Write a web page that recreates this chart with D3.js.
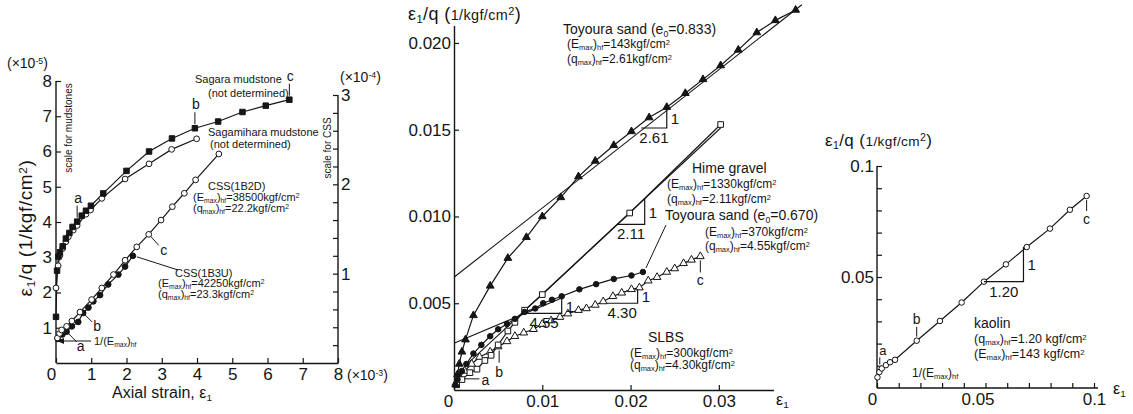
<!DOCTYPE html>
<html>
<head>
<meta charset="utf-8">
<script src="https://cdn.jsdelivr.net/npm/d3@7"></script>
<style>
  body { margin: 0; background: #fff; }
  svg { display: block; font-family: "Liberation Sans", Arial, Helvetica, sans-serif; }
</style>
</head>
<body>
<div id="chart"></div>
<script>
// ---------- panel 1: mudstones (strain x1e-3, e/q x1e-5) and CSS (e/q x1e-4)
const sagara = [[0.00,1.31],[0.03,2.62],[0.07,3.02],[0.11,3.14],[0.19,3.31],[0.28,3.53],[0.38,3.69],[0.47,3.86],[0.60,4.01],[0.73,4.18],[0.85,4.32],[0.99,4.46],[1.34,4.81],[2.00,5.45],[2.64,6.00],[3.29,6.37],[3.94,6.66],[4.60,6.85],[5.29,7.12],[5.95,7.30],[6.62,7.47]];
const sagamihara = [[0.00,2.13],[0.06,2.76],[0.11,3.05],[0.19,3.25],[0.28,3.44],[0.35,3.58],[0.49,3.77],[0.60,3.90],[0.85,4.22],[0.98,4.34],[1.30,4.67],[1.96,5.22],[2.64,5.65],[3.28,6.06],[3.99,6.36]];
const css1b2d = [[0.04,0.28],[0.10,0.33],[0.16,0.37],[0.30,0.41],[0.45,0.47],[0.68,0.57],[1.01,0.71],[1.30,0.84],[1.63,0.99],[1.96,1.15],[2.29,1.30],[2.63,1.44],[2.98,1.60],[3.30,1.75],[3.64,1.90],[3.96,2.05],[4.62,2.34]];
const css1b3u = [[0.05,0.27],[0.18,0.32],[0.30,0.35],[0.45,0.41],[0.63,0.46],[0.77,0.56],[0.92,0.62],[1.06,0.69],[1.25,0.76],[1.48,0.88],[1.77,0.99],[1.96,1.08],[2.18,1.20]];
const p1StrainTicks = [0,1,2,3,4,5,6,7,8];
const p1MudTicks = [1,2,3,4,5,6,7,8];
const p1CssTicks = d3.range(0.2, 3.01, 0.2);

// ---------- panel 2: sands and gravel
const toyoura833 = [[0.0002,0.0003],[0.0004,0.0009],[0.0006,0.0015],[0.0009,0.0022],[0.0013,0.0029],[0.0022,0.0043],[0.0041,0.0060],[0.0061,0.0076],[0.0082,0.0088],[0.0100,0.0100],[0.0121,0.0111],[0.0141,0.0123],[0.0160,0.0132],[0.0181,0.0141],[0.0201,0.0149],[0.0221,0.0157],[0.0241,0.0163],[0.0262,0.0171],[0.0282,0.0179],[0.0302,0.0187],[0.0322,0.0196],[0.0343,0.0206],[0.0364,0.0213],[0.0387,0.0219]];
const hime = [[0.0003,0.0003],[0.0009,0.0006],[0.0018,0.0010],[0.0026,0.0012],[0.0035,0.0017],[0.0042,0.0020],[0.0050,0.0026],[0.0061,0.0034],[0.0069,0.0039],[0.0080,0.0046],[0.0100,0.0055],[0.0199,0.0102],[0.0302,0.0153]];
const toyoura670 = [[0.0004,0.0006],[0.0009,0.0011],[0.0014,0.0015],[0.0022,0.0021],[0.0031,0.0026],[0.0041,0.0031],[0.0050,0.0035],[0.0060,0.0038],[0.0069,0.0041],[0.0080,0.0045],[0.0092,0.0047],[0.0101,0.0050],[0.0111,0.0052],[0.0122,0.0054],[0.0142,0.0058],[0.0161,0.0061],[0.0181,0.0064],[0.0201,0.0066],[0.0214,0.0068]];
const slbs = [[0.0002,0.0004],[0.0006,0.0007],[0.0012,0.0011],[0.0020,0.0015],[0.0029,0.0019],[0.0041,0.0022],[0.0050,0.0025],[0.0060,0.0028],[0.0069,0.0031],[0.0079,0.0033],[0.0090,0.0035],[0.0100,0.0038],[0.0110,0.0040],[0.0120,0.0042],[0.0129,0.0044],[0.0141,0.0046],[0.0150,0.0047],[0.0160,0.0049],[0.0169,0.0051],[0.0180,0.0054],[0.0190,0.0056],[0.0201,0.0058],[0.0210,0.0059],[0.0220,0.0063],[0.0230,0.0065],[0.0241,0.0068],[0.0250,0.0070],[0.0260,0.0073],[0.0269,0.0075],[0.0279,0.0077]];
const fit833 = [[0,0.0065],[0.0394,0.0222]];
const fitHime = [[0.0015,0.0015],[0.0302,0.0151]];
const fit670 = [[0,0.0027],[0.0122,0.0053]];
// [strain start, strain end, e/q low, e/q high, run label]
const slopes2 = [[0.0212,0.0241,0.0151,0.0163,"2.61"],[0.0185,0.0216,0.00955,0.0110,"2.11"],[0.0082,0.0122,0.00442,0.00528,"4.55"],[0.0173,0.0208,0.0050,0.0058,"4.30"]];
const p2StrainTicks = [0,0.01,0.02,0.03];
const p2RatioTicks = [0.005,0.010,0.015,0.020];

// ---------- panel 3: kaolin
const kaolin = [[0.0002,0.0048],[0.0011,0.0072],[0.0022,0.0088],[0.0041,0.0103],[0.0060,0.0116],[0.0083,0.0127],[0.0183,0.0213],[0.0290,0.0302],[0.0390,0.0385],[0.0493,0.0479],[0.0594,0.0557],[0.0690,0.0635],[0.0797,0.0718],[0.0889,0.0803],[0.0966,0.0865]];
const slopes3 = [[0.0493,0.0675,0.0479,0.0635,"1.20"]];
const p3Ticks = d3.range(0, 0.1001, 0.01);

const W = 1133, H = 414, INK = "#151515";
const svg = d3.select("#chart").append("svg").attr("width", W).attr("height", H);
svg.append("rect").attr("width", W).attr("height", H).attr("fill", "#fff");

function rich(g, x, y, parts, size, anchor) {
  const t = g.append("text").attr("x", x).attr("y", y)
    .attr("font-size", size).attr("fill", INK).attr("text-anchor", anchor || "start");
  parts.forEach(p => {
    const [s, k] = typeof p === "string" ? [p, ""] : p;
    const ts = t.append("tspan").text(s);
    if (k === "sub") ts.attr("baseline-shift", "-28%").attr("font-size", size * 0.62);
    if (k === "sup") ts.attr("baseline-shift", "42%").attr("font-size", size * 0.62);
    if (k === "small") ts.attr("font-size", size * 0.8);
  });
  return t;
}
function params(g, x, y, sym, val, size) {
  return rich(g, x, y, ["(" + sym, ["max", "sub"], ")", ["hf", "sub"], "=" + val + "kgf/cm", ["2", "sup"]], size);
}
function curve(g, data, sx, sy, w) {
  g.append("path").datum(data)
    .attr("d", d3.line().x(d => sx(d[0])).y(d => sy(d[1])))
    .attr("fill", "none").attr("stroke", INK).attr("stroke-width", w || 1.2);
}
function marks(g, data, sx, sy, kind, open, size) {
  const sym = { sq: d3.symbolSquare, ci: d3.symbolCircle, tr: d3.symbolTriangle }[kind];
  g.selectAll(null).data(data).join("path")
    .attr("transform", d => `translate(${sx(d[0])},${sy(d[1])})`)
    .attr("d", d3.symbol(sym, size))
    .attr("fill", open ? "#fff" : INK).attr("stroke", INK).attr("stroke-width", 1);
}
function seg(g, x1, y1, x2, y2, w) {
  g.append("line").attr("x1", x1).attr("y1", y1).attr("x2", x2).attr("y2", y2)
    .attr("stroke", INK).attr("stroke-width", w || 1);
}
function label(g, x, y, s, size, anchor) {
  return g.append("text").attr("x", x).attr("y", y).attr("font-size", size)
    .attr("fill", INK).attr("text-anchor", anchor || "middle").text(s);
}
function styleAxis(a, size) {
  a.attr("font-family", null).attr("font-size", null);
  a.select(".domain").attr("stroke", INK).attr("stroke-width", 1.4);
  a.selectAll(".tick line").attr("stroke", INK).attr("stroke-width", 1.2);
  a.selectAll(".tick text").attr("fill", INK).attr("font-size", size);
}
function slopeTri(g, s, sx, sy) {
  const [e1, e2, v1, v2, run] = s;
  g.append("path").attr("d", `M${sx(e1)},${sy(v1)}H${sx(e2)}V${sy(v2)}`)
    .attr("fill", "none").attr("stroke", INK).attr("stroke-width", 1.2);
  label(g, sx(e2) + 4, (sy(v1) + sy(v2)) / 2 + 6, "1", 15, "start");
  label(g, (sx(e1) + sx(e2)) / 2, sy(v1) + 15, run, 15);
}

// ================= panel 1 =================
const g1 = svg.append("g");
const x1 = d3.scaleLinear([0, 8], [56, 338]);
const yMud = d3.scaleLinear([0, 8], [363, 81]);
const yCss = d3.scaleLinear([0, 3], [363, 95]);

g1.append("g").attr("transform", `translate(0,${yMud(0)})`)
  .call(d3.axisBottom(x1).tickValues(p1StrainTicks).tickSizeInner(-5).tickSizeOuter(0).tickPadding(5))
  .call(a => styleAxis(a, 17))
  .call(a => a.selectAll(".tick text").filter(d => d === 0).attr("dx", -5));
g1.append("g").attr("transform", `translate(${x1(0)},0)`)
  .call(d3.axisLeft(yMud).tickValues(p1MudTicks).tickSizeInner(-5).tickSizeOuter(0).tickPadding(4))
  .call(a => styleAxis(a, 17))
  .call(a => a.select(".domain").attr("d", `M0,${yMud(0)}V${yMud(8)}`));
g1.append("g").attr("transform", `translate(${x1(8)},0)`)
  .call(d3.axisRight(yCss).tickValues(p1CssTicks).tickSizeInner(-5).tickSizeOuter(0).tickPadding(3)
    .tickFormat(d => Math.abs(d - Math.round(d)) < 1e-6 ? d3.format("d")(Math.round(d)) : ""))
  .call(a => styleAxis(a, 17))
  .call(a => a.select(".domain").attr("d", `M0,${yCss(0)}V${yCss(3)}`));

rich(g1, 7, 68, ["(\u00d710", ["-5", "sup"], ")"], 14);
rich(g1, 340, 82, ["(\u00d710", ["-4", "sup"], ")"], 14);
rich(g1, 347, 380, ["(\u00d710", ["-3", "sup"], ")"], 14);
rich(g1, 162, 398, ["Axial strain, \u03b5", ["1", "sub"]], 16, "middle");
rich(g1, 0, 0, ["\u03b5", ["1", "sub"], "/q (1/kgf/cm", ["2", "sup"], ")"], 19, "middle")
  .attr("letter-spacing", 0.6)
  .attr("transform", "translate(32,228) rotate(-90)");
label(g1, 0, 0, "scale for mudstones", 10).attr("transform", "translate(72,128) rotate(-90)");
label(g1, 0, 0, "scale for CSS", 10).attr("transform", "translate(331,148) rotate(-90)");

curve(g1, sagara, x1, yMud);
curve(g1, sagamihara, x1, yMud);
curve(g1, css1b2d, x1, yCss);
curve(g1, css1b3u, x1, yCss);
marks(g1, sagamihara, x1, yMud, "ci", true, 26);
marks(g1, sagara, x1, yMud, "sq", false, 30);
marks(g1, css1b3u, x1, yCss, "ci", false, 26);
marks(g1, css1b2d, x1, yCss, "ci", true, 26);

// mudstone a / b / c markers
[[sagara[8], "a"], [sagara[16], "b"], [sagara[20], "c"]].forEach(([d, s]) => {
  const px = x1(d[0]), py = yMud(d[1]);
  seg(g1, px, py - 4, px, py - 16);
  label(g1, px + 1, py - 19, s, 14);
});
label(g1, 195, 83, "Sagara mudstone", 11, "start");
label(g1, 208, 97, "(not determined)", 11, "start");
label(g1, 208, 136, "Sagamihara mudstone", 11, "start");
label(g1, 210, 148, "(not determined)", 11, "start");
label(g1, 208, 190, "CSS(1B2D)", 11, "start");
params(g1, 193, 201, "E", "38500", 11);
params(g1, 193, 212, "q", "22.2", 11);

// CSS a / b / c leaders
{
  const c = css1b2d[11], b = css1b3u[5], a = css1b3u[2], e = css1b3u[12];
  seg(g1, x1(c[0]) + 2, yCss(c[1]) + 2, x1(c[0]) + 10, yCss(c[1]) + 11);
  label(g1, x1(c[0]) + 15, yCss(c[1]) + 21, "c", 14);
  seg(g1, x1(b[0]) + 2, yCss(b[1]) + 2, x1(b[0]) + 9, yCss(b[1]) + 9);
  label(g1, x1(b[0]) + 14, yCss(b[1]) + 18, "b", 14);
  seg(g1, x1(a[0]) + 2, yCss(a[1]) + 2, x1(a[0]) + 10, yCss(a[1]) + 10);
  label(g1, x1(a[0]) + 14, yCss(a[1]) + 19, "a", 14);
  seg(g1, x1(e[0]) + 4, yCss(e[1]) + 1, 178, 270);
}
label(g1, 175, 277, "CSS(1B3U)", 11, "start");
params(g1, 158, 287, "E", "42250", 11);
params(g1, 158, 298, "q", "23.3", 11);
seg(g1, 91, 341, 60, 341);
g1.append("path").attr("d", "M57,341l7,-3v6z").attr("fill", INK);
rich(g1, 94, 345, ["1/(E", ["max", "sub"], ")", ["hf", "sub"]], 11);

// ================= panel 2 =================
const g2 = svg.append("g");
const x2 = d3.scaleLinear([0, 0.0362], [454, 773.6]);
const y2 = d3.scaleLinear([0, 0.021], [390, 25.6]);

g2.append("g").attr("transform", `translate(0,${y2(0)})`)
  .call(d3.axisBottom(x2).tickValues(p2StrainTicks).tickSizeInner(-5).tickSizeOuter(0).tickPadding(5)
    .tickFormat(d => d === 0 ? "0" : d3.format(".2f")(d)))
  .call(a => styleAxis(a, 17))
  .call(a => a.selectAll(".tick text").filter(d => d === 0).attr("dx", -6));
g2.append("g").attr("transform", `translate(${x2(0)},0)`)
  .call(d3.axisLeft(y2).tickValues(p2RatioTicks).tickSizeInner(-5).tickSizeOuter(0).tickPadding(3)
    .tickFormat(d3.format(".3f")))
  .call(a => styleAxis(a, 17));
rich(g2, 408, 20, ["\u03b5", ["1", "sub"], "/q (", ["1/kgf/cm", "small"], ["2", "sup"], ")"], 18)
  .attr("letter-spacing", 0.4);
rich(g2, 776, 405, ["\u03b5", ["1", "sub"]], 16);

curve(g2, fit833, x2, y2, 1.1);
curve(g2, fitHime, x2, y2, 1.1);
curve(g2, fit670, x2, y2, 1.1);
curve(g2, toyoura833, x2, y2);
curve(g2, hime, x2, y2);
curve(g2, toyoura670, x2, y2);
curve(g2, slbs, x2, y2);
marks(g2, slbs, x2, y2, "tr", true, 26);
marks(g2, hime, x2, y2, "sq", true, 32);
marks(g2, toyoura670, x2, y2, "ci", false, 24);
marks(g2, toyoura833, x2, y2, "tr", false, 26);
slopes2.forEach(s => slopeTri(g2, s, x2, y2));

rich(g2, 563, 34, ["Toyoura sand (e", ["0", "sub"], "=0.833)"], 14);
params(g2, 567, 48, "E", "143", 12);
params(g2, 567, 63, "q", "2.61", 12);

label(g2, 692, 173, "Hime gravel", 14, "start");
params(g2, 667, 188, "E", "1330", 12);
params(g2, 667, 203, "q", "2.11", 12);

rich(g2, 665, 220, ["Toyoura sand (e", ["0", "sub"], "=0.670)"], 14);
params(g2, 705, 236, "E", "370", 12);
params(g2, 705, 250, "q", "4.55", 12);
{
  const e = toyoura670[toyoura670.length - 1];
  seg(g2, x2(e[0]) + 3, y2(e[1]) - 4, 666, 225);
}

label(g2, 648, 342, "SLBS", 14, "start");
params(g2, 630, 357, "E", "300", 12);
params(g2, 630, 369, "q", "4.30", 12);

{
  const b = slbs[6], c = slbs[slbs.length - 1], a = slbs[1];
  seg(g2, x2(b[0]) + 1, y2(b[1]) + 4, x2(b[0]) + 1, y2(b[1]) + 16);
  label(g2, x2(b[0]) + 1, y2(b[1]) + 30, "b", 14);
  seg(g2, x2(c[0]), y2(c[1]) + 4, x2(c[0]), y2(c[1]) + 16);
  label(g2, x2(c[0]), y2(c[1]) + 29, "c", 14);
  seg(g2, x2(a[0]) + 5, y2(a[1]) + 1, x2(a[0]) + 20, y2(a[1]) + 1);
  label(g2, x2(a[0]) + 26, y2(a[1]) + 7, "a", 14);
}

// ================= panel 3 =================
const g3 = svg.append("g");
const x3 = d3.scaleLinear([0, 0.1], [877, 1094]);
const y3 = d3.scaleLinear([0, 0.1], [388, 166]);
const p3Label = d => [0, 0.05, 0.1].some(v => Math.abs(v - d) < 1e-9) ? d3.format("~g")(+d.toFixed(2)) : "";

g3.append("g").attr("transform", `translate(0,${y3(0)})`)
  .call(d3.axisBottom(x3).tickValues(p3Ticks).tickSizeInner(-5).tickSizeOuter(0).tickPadding(5).tickFormat(p3Label))
  .call(a => styleAxis(a, 17))
  .call(a => a.select(".domain").attr("d", `M${x3(0)},0H${x3(0.1) + 4}`))
  .call(a => a.selectAll(".tick text").filter(d => d === 0).attr("dx", -5))
  .call(a => a.selectAll(".tick text").filter(d => Math.abs(d - 0.05) < 1e-9).attr("dx", -8));
g3.append("g").attr("transform", `translate(${x3(0)},0)`)
  .call(d3.axisLeft(y3).tickValues(p3Ticks.slice(1)).tickSizeInner(-5).tickSizeOuter(0).tickPadding(3).tickFormat(p3Label))
  .call(a => styleAxis(a, 17))
  .call(a => a.select(".domain").attr("d", `M0,${y3(0)}V${y3(0.1)}`));
rich(g3, 825, 146, ["\u03b5", ["1", "sub"], "/q (", ["1/kgf/cm", "small"], ["2", "sup"], ")"], 17)
  .attr("letter-spacing", 0.4);
rich(g3, 1113, 394, ["\u03b5", ["1", "sub"]], 16);

curve(g3, kaolin, x3, y3);
marks(g3, kaolin, x3, y3, "ci", true, 24);
slopes3.forEach(s => slopeTri(g3, s, x3, y3));
{
  const a = kaolin[2], b = kaolin[6], c = kaolin[kaolin.length - 1];
  seg(g3, x3(a[0]) - 2, y3(a[1]) - 4, x3(a[0]) - 2, y3(a[1]) - 11);
  label(g3, x3(a[0]) + 1, y3(a[1]) - 13, "a", 13);
  seg(g3, x3(b[0]), y3(b[1]) - 4, x3(b[0]), y3(b[1]) - 14);
  label(g3, x3(b[0]), y3(b[1]) - 17, "b", 14);
  seg(g3, x3(c[0]), y3(c[1]) + 4, x3(c[0]), y3(c[1]) + 15);
  label(g3, x3(c[0]), y3(c[1]) + 28, "c", 14);
}
label(g3, 974, 328, "kaolin", 14, "start");
rich(g3, 974, 343, ["(q", ["max", "sub"], ")", ["hf", "sub"], "=1.20 kgf/cm", ["2", "sup"]], 12.5);
rich(g3, 974, 358, ["(E", ["max", "sub"], ")", ["hf", "sub"], "=143 kgf/cm", ["2", "sup"]], 12.5);
rich(g3, 912, 377, ["1/(E", ["max", "sub"], ")", ["hf", "sub"]], 12);
</script>
</body>
</html>
